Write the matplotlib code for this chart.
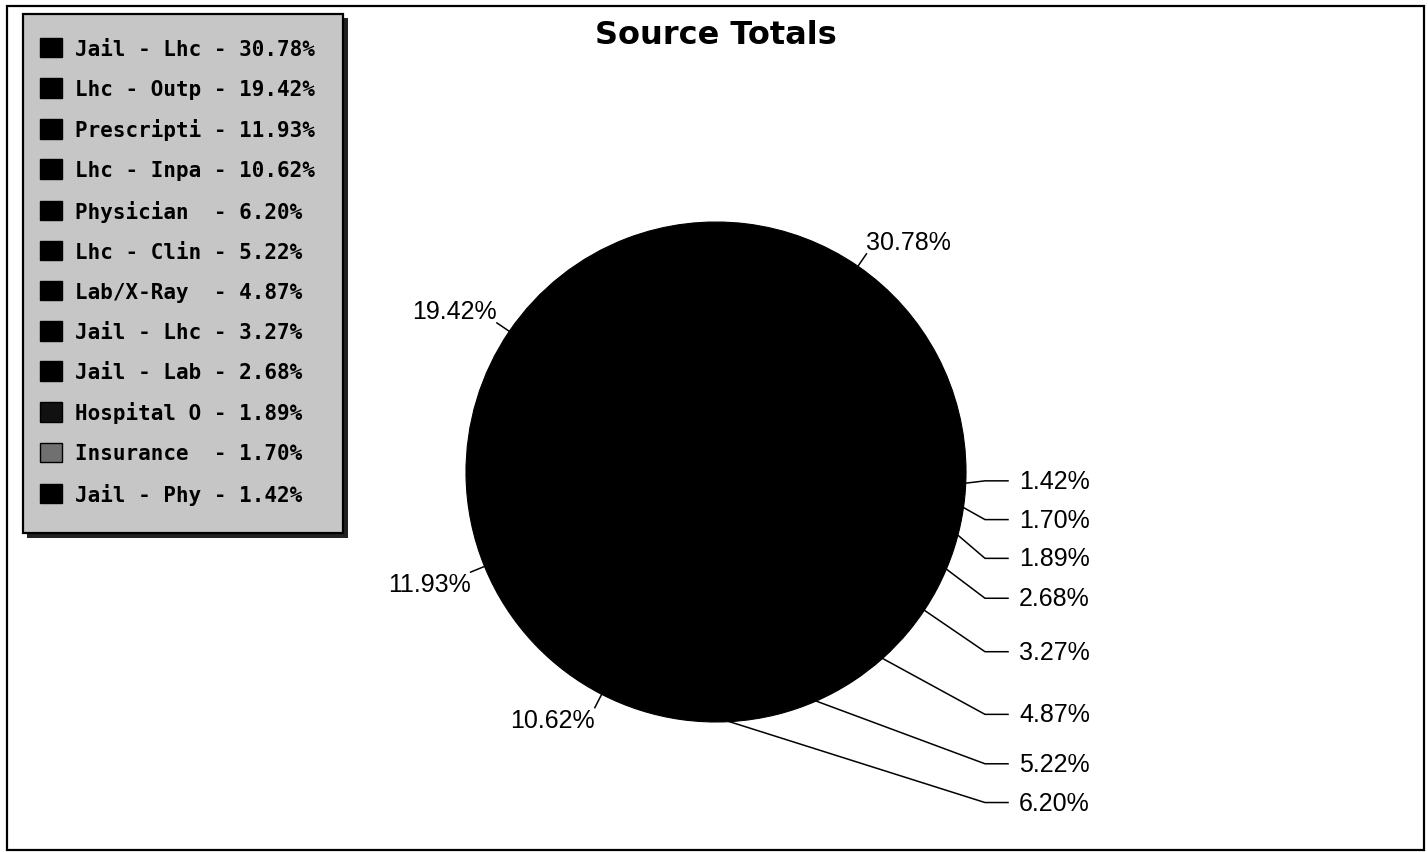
import numpy as np
import matplotlib.pyplot as plt
from matplotlib.patches import Rectangle

# source names as the report prints them (cut to 10 characters)
sources = ['Jail - Lhc', 'Lhc - Outp', 'Prescripti', 'Lhc - Inpa', 'Physician',
           'Lhc - Clin', 'Lab/X-Ray', 'Jail - Lhc', 'Jail - Lab', 'Hospital O',
           'Insurance', 'Jail - Phy']
shares = [30.78, 19.42, 11.93, 10.62, 6.20, 5.22, 4.87, 3.27, 2.68, 1.89, 1.70, 1.42]
swatch_colors = ['black', 'black', 'black', 'black', 'black', 'black',
                 'black', 'black', 'black', '#111111', '#707070', 'black']

W, H = 1428, 853
cx, cy, R = 716, 473, 250        # pie centre / radius in pixels

fig = plt.figure(figsize=(W / 100, H / 100), dpi=100)
ax = fig.add_axes([0, 0, 1, 1])

wedges, _ = ax.pie(shares, colors=['black'] * len(shares), startangle=0,
                   counterclock=True, radius=1,
                   wedgeprops=dict(linewidth=0.8, edgecolor='black'))
# 1 data unit = R pixels, origin at the pie centre
ax.set_xlim(-cx / R, (W - cx) / R)
ax.set_ylim((cy - H) / R, cy / R)
ax.set_aspect('equal')
ax.axis('off')

label_font = dict(family='Liberation Sans', size=18, color='black')
mids = [np.deg2rad((w.theta1 + w.theta2) / 2) for w in wedges]

# big slices: short leader and label right at the rim
for share, a in zip(shares, mids):
    if share < 10:
        continue
    c, s = np.cos(a), np.sin(a)
    ax.plot([c, 1.06 * c], [s, 1.06 * s], color='black', lw=1.1)
    ax.text(1.06 * c, 1.06 * s, f'{share:.2f}%',
            ha='left' if c > 0 else 'right', va='bottom' if s > 0 else 'top',
            **label_font)

# small slices: stacked column of callouts on the right
small = [(share, a) for share, a in zip(shares, mids) if share < 10]
small.sort(key=lambda t: -np.sin(t[1]))
ys = [1.3 * np.sin(a) for _, a in small]
gap = 0.155
for _ in range(100):
    for i in range(len(ys) - 1):
        d = ys[i] - ys[i + 1]
        if d < gap:
            ys[i] += (gap - d) / 2
            ys[i + 1] -= (gap - d) / 2
elbow_x, end_x, text_x = (985 - cx) / R, (1008 - cx) / R, (1019 - cx) / R
for (share, a), y in zip(small, ys):
    c, s = np.cos(a), np.sin(a)
    ax.plot([c, elbow_x, end_x], [s, y, y], color='black', lw=1.1)
    ax.text(text_x, y, f'{share:.2f}%', ha='left', va='center', **label_font)

# legend panel with drop shadow
def fig_rect(x0, y0, x1, y1, **kw):
    return Rectangle((x0 / W, 1 - y1 / H), (x1 - x0) / W, (y1 - y0) / H,
                     transform=fig.transFigure, **kw)

fig.add_artist(fig_rect(27, 19, 348, 539, facecolor='#222222', edgecolor='none'))
fig.add_artist(fig_rect(23, 15, 343, 534, facecolor='#c6c6c6', edgecolor='black', lw=1.6))

handles = [Rectangle((0, 0), 1, 1, facecolor=c, edgecolor='black', lw=1)
           for c in swatch_colors]
labels = [f'{n:<10} - {s:.2f}%' for n, s in zip(sources, shares)]
fig.legend(handles, labels, loc='upper left', bbox_to_anchor=(40 / W, 1 - 39 / H),
           frameon=False, borderpad=0, borderaxespad=0,
           prop=dict(family='DejaVu Sans Mono', weight='bold', size=15),
           handlelength=1.06, handleheight=1.06, handletextpad=0.6,
           labelspacing=0.925)

fig.text(cx / W, 1 - 35 / H, 'Source Totals', ha='center', va='center',
         fontsize=23, family='DejaVu Sans', weight='bold')

# outer frame
fig.add_artist(fig_rect(7, 7, 1424, 851, fill=False, edgecolor='black', lw=1.6))

fig.savefig('out.png', dpi=100)
